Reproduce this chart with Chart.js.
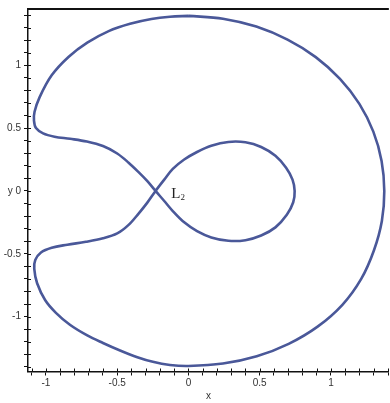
<!DOCTYPE html>
<html>
<head>
<meta charset="utf-8">
<script src="https://cdn.jsdelivr.net/npm/chart.js@4.4.0/dist/chart.umd.min.js"></script>
<style>
  html, body { margin: 0; padding: 0; background: #fff; }
  #box { width: 390px; height: 403px; position: relative; }
</style>
</head>
<body>
<div id="box"><canvas id="curve_chart"></canvas></div>
<script>
// zero velocity curve, walked once round (it crosses itself at L2)
// top -> left side -> upper lobe -> L2 -> inner loop -> L2 -> lower lobe -> bottom -> right side
var curveX = [0.000, -0.130, -0.260, -0.410, -0.560, -0.710, -0.840, -0.960, -1.045, -1.080,
    -1.084, -1.070, -1.020, -0.940, -0.830, -0.713, -0.600, -0.500, -0.420, -0.350, -0.290,
    -0.231, -0.170, -0.110, -0.030, 0.060, 0.160, 0.280, 0.400, 0.510, 0.610, 0.690, 0.735,
    0.745, 0.730, 0.685, 0.610, 0.510, 0.400, 0.280, 0.160, 0.060, -0.030, -0.110, -0.170,
    -0.231, -0.290, -0.350, -0.420, -0.500, -0.600, -0.720, -0.850, -0.960, -1.035, -1.075,
    -1.082, -1.062, -1.005, -0.930, -0.832, -0.710, -0.600, -0.480, -0.364, -0.250, -0.130,
    0.000, 0.242, 0.479, 0.703, 0.906, 1.080, 1.212, 1.301, 1.357, 1.374,
    1.355, 1.297, 1.199, 1.063, 0.893, 0.695, 0.476, 0.242, 0.000];
var curveY = [1.393, 1.386, 1.368, 1.330, 1.272, 1.180, 1.068, 0.920, 0.745, 0.630,
    0.560, 0.500, 0.458, 0.432, 0.415, 0.393, 0.357, 0.298, 0.225, 0.150, 0.080,
    0.000, -0.080, -0.160, -0.250, -0.320, -0.370, -0.397, -0.392, -0.355, -0.290, -0.190, -0.090,
    0.000, 0.090, 0.185, 0.280, 0.350, 0.387, 0.390, 0.360, 0.310, 0.250, 0.175, 0.090,
    0.000, -0.095, -0.180, -0.270, -0.338, -0.377, -0.405, -0.428, -0.452, -0.490, -0.550,
    -0.620, -0.735, -0.870, -0.970, -1.065, -1.150, -1.210, -1.270, -1.321, -1.360, -1.385,
    -1.393, -1.374, -1.316, -1.217, -1.080, -0.906, -0.700, -0.474, -0.239, 0.000,
    0.239, 0.472, 0.693, 0.892, 1.065, 1.204, 1.308, 1.371, 1.393];

var xMajor = [-1, -0.5, 0, 0.5, 1];
var yMajor = [-1, -0.5, 0, 0.5, 1];
var pointName = 'L';
var pointSub = '2';
var pointAt = [-0.12, 0];

var points = curveX.map(function (x, i) { return { x: x, y: curveY[i] }; });

var labelFont = { family: '"Liberation Sans", Arial, sans-serif', size: 10 };

function tickText(list, prefix) {
    return function (value) {
        var v = Math.round(value * 10) / 10;
        if (list.indexOf(v) < 0) return '';
        if (v === 0 && prefix) return prefix + '0';
        return String(v);
    };
}

// top border, inner halves of the tick marks, and the L2 tag
var frame = {
    id: 'frame',
    afterDraw: function (chart) {
        var c = chart.ctx, a = chart.chartArea;
        var sx = chart.scales.x, sy = chart.scales.y;
        c.save();
        c.strokeStyle = '#111';
        c.lineWidth = 2;
        c.beginPath();
        c.moveTo(a.left, a.top);
        c.lineTo(a.right, a.top);
        c.stroke();

        c.lineWidth = 1;
        c.beginPath();
        sx.ticks.forEach(function (t) {
            var p = Math.round(sx.getPixelForValue(t.value)) + 0.5;
            c.moveTo(p, a.bottom);
            c.lineTo(p, a.bottom - 3);
        });
        sy.ticks.forEach(function (t) {
            var p = Math.round(sy.getPixelForValue(t.value)) + 0.5;
            c.moveTo(a.left, p);
            c.lineTo(a.left + 3, p);
        });
        c.stroke();

        c.fillStyle = '#222';
        c.font = '15px "Liberation Serif", "Times New Roman", serif';
        var lx = sx.getPixelForValue(pointAt[0]);
        var ly = sy.getPixelForValue(pointAt[1]) + 7;
        c.fillText(pointName, lx, ly);
        var w = c.measureText(pointName).width;
        c.font = '9px "Liberation Serif", "Times New Roman", serif';
        c.fillText(pointSub, lx + w, ly + 2);
        c.restore();
    }
};

var CHART = document.getElementById('curve_chart').getContext('2d');
var curve_chart = new Chart(CHART, {
    type: 'scatter',
    data: {
        datasets: [{
            data: points,
            showLine: true,
            pointRadius: 0,
            borderColor: '#4a5899',
            borderWidth: 2.6,
            tension: 0.35,
            fill: false
        }]
    },
    options: {
        responsive: true,
        maintainAspectRatio: false,
        animation: false,
        layout: { padding: { top: 8, left: 0, right: 0, bottom: 0 } },
        plugins: { legend: { display: false }, tooltip: { enabled: false } },
        scales: {
            x: {
                type: 'linear',
                min: -1.126,
                max: 1.406,
                afterFit: function (s) { s.height = 31.5; },
                border: { color: '#111', width: 1.5 },
                grid: { drawOnChartArea: false, tickLength: 4, color: '#111' },
                ticks: {
                    stepSize: 0.1,
                    includeBounds: false,
                    autoSkip: false,
                    maxRotation: 0,
                    padding: 2,
                    color: '#333',
                    font: labelFont,
                    callback: tickText(xMajor, '')
                },
                title: { display: true, text: 'x', color: '#333', font: labelFont, padding: { top: 0, bottom: 1 } }
            },
            y: {
                type: 'linear',
                min: -1.437,
                max: 1.448,
                afterFit: function (s) { s.width = 28; },
                border: { color: '#111', width: 1.5 },
                grid: { drawOnChartArea: false, tickLength: 4, color: '#111' },
                ticks: {
                    stepSize: 0.1,
                    includeBounds: false,
                    autoSkip: false,
                    padding: 3,
                    color: '#333',
                    font: labelFont,
                    callback: tickText(yMajor, 'y ')
                }
            }
        }
    },
    plugins: [frame]
});
</script>
</body>
</html>
